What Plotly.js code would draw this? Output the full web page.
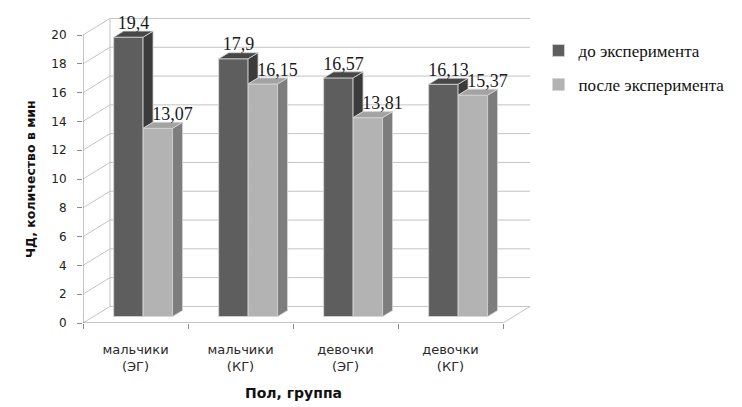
<!DOCTYPE html>
<html><head><meta charset="utf-8">
<script src="https://cdn.plot.ly/plotly-3.0.1.min.js"></script>
<style>html,body{margin:0;padding:0;background:#fff}#chart{width:742px;height:407px}</style>
</head><body><div id="chart"></div>
<script>
const categories = ["мальчики<br>(ЭГ)", "мальчики<br>(КГ)", "девочки<br>(ЭГ)", "девочки<br>(КГ)"];
const seriesNames = ["до эксперимента", "после эксперимента"];
const beforeVals = [19.4, 17.9, 16.57, 16.13];
const afterVals = [13.07, 16.15, 13.81, 15.37];
const yTicks = [0, 2, 4, 6, 8, 10, 12, 14, 16, 18, 20];

// 3D-look geometry (axis units)
const WALL_DX = 0.257, WALL_DY = 1.15;
const BAR_BASE = 0.45;
const BAR_W = 0.28, BAR_DX = 0.095, BAR_DY = 0.42;
const OFF = [-0.068, 0.213];
const FRONT = ["#5e5e5e", "#b3b3b3"], SIDE = ["#3b3b3b", "#7d7d7d"], TOP = ["#474747", "#a3a3a3"];
const EDGE = "#d6d6d6";

const idx = categories.map((_, i) => i);
const vals = [beforeVals, afterVals];
const traces = [];

vals.forEach((v, s) => {
  traces.push({
    type: "bar", name: seriesNames[s], legendgroup: "g" + s,
    x: idx.map(i => i + OFF[s]), y: v, base: v.map(() => BAR_BASE), width: BAR_W,
    marker: {color: FRONT[s], line: {color: EDGE, width: 0.8}},
    hoverinfo: "skip"
  });
});

function poly(xs, ys, color) {
  traces.push({type: "scatter", mode: "lines", x: xs.concat([xs[0]]), y: ys.concat([ys[0]]),
    fill: "toself", fillcolor: color, line: {color: EDGE, width: 0.8},
    showlegend: false, hoverinfo: "skip"});
}

vals.forEach((v, s) => {
  v.forEach((val, i) => {
    const xl = i + OFF[s] - BAR_W / 2, xr = i + OFF[s] + BAR_W / 2;
    const top = BAR_BASE + val;
    const low = s === 0 ? BAR_BASE + Math.min(afterVals[i], val) : BAR_BASE;
    poly([xr, xr, xr + BAR_DX, xr + BAR_DX], [low, top, top + BAR_DY, low + BAR_DY], SIDE[s]);
    poly([xl, xr, xr + BAR_DX, xl + BAR_DX], [top, top, top + BAR_DY, top + BAR_DY], TOP[s]);
  });
});

const LBL_DX = [0.05, 0.14];
vals.forEach((v, s) => {
  traces.push({type: "scatter", mode: "text", x: idx.map(i => i + OFF[s] + LBL_DX[s]),
    y: v.map(val => BAR_BASE + val + BAR_DY - 0.15),
    text: v.map(val => String(val).replace(".", ",")), textposition: "top center",
    textfont: {family: "Liberation Serif", size: 18, color: "#1a1a1a"},
    showlegend: false, hoverinfo: "skip", cliponaxis: false});
});

const shapes = [];
const gridC = "#c4c4c4", axC = "#8a8a8a";
yTicks.forEach(v => {
  shapes.push({type: "line", layer: "below", x0: -0.5, y0: v, x1: -0.5 + WALL_DX, y1: v + WALL_DY, line: {color: gridC, width: 1}});
  shapes.push({type: "line", layer: "below", x0: -0.5 + WALL_DX, y0: v + WALL_DY, x1: 3.5 + WALL_DX, y1: v + WALL_DY, line: {color: gridC, width: 1}});
});
shapes.push({type: "line", layer: "below", x0: -0.5 + WALL_DX, y0: WALL_DY, x1: -0.5 + WALL_DX, y1: 20 + WALL_DY, line: {color: gridC, width: 1}});
shapes.push({type: "line", layer: "below", x0: 3.5, y0: 0, x1: 3.5 + WALL_DX, y1: WALL_DY, line: {color: gridC, width: 1}});
shapes.push({type: "line", x0: -0.5, y0: 0, x1: 3.5, y1: 0, line: {color: axC, width: 1}});
shapes.push({type: "line", x0: -0.5, y0: 0, x1: -0.5, y1: 20, line: {color: axC, width: 1}});

const layout = {
  width: 742, height: 407,
  margin: {l: 83, r: 212, t: 16, b: 84},
  paper_bgcolor: "#fff", plot_bgcolor: "#fff",
  barmode: "overlay", showlegend: true,
  xaxis: {range: [-0.5, 3.5 + WALL_DX], tickmode: "array", tickvals: idx, ticktext: categories,
    ticks: "", showgrid: false, zeroline: false, showline: false, ticklabelstandoff: 17,
    tickfont: {family: "DejaVu Sans", size: 13, color: "#2a2a2a"},
    minor: {tick0: -0.5, dtick: 1, ticks: "outside", ticklen: 5, tickcolor: axC, showgrid: false}},
  yaxis: {range: [0, 21.32], tickmode: "array", tickvals: yTicks, ticks: "outside", ticklen: 5,
    tickcolor: axC, showgrid: false, zeroline: false, showline: false, ticklabelstandoff: 8,
    tickfont: {family: "DejaVu Sans", size: 12, color: "#222"}},
  legend: {x: 1.019, y: 0.945, xanchor: "left", yanchor: "top", traceorder: "grouped", tracegroupgap: 9,
    font: {family: "Liberation Serif", size: 17, color: "#111"}, itemwidth: 30},
  shapes: shapes,
  annotations: [
    {text: "<b>Пол, группа</b>", xref: "x", yref: "paper", x: 1.5, y: 0, yshift: -80, showarrow: false,
      font: {family: "DejaVu Sans", size: 14, color: "#111"}},
    {text: "<b>ЧД, количество в мин</b>", xref: "paper", yref: "y", x: 0, xshift: -53, xanchor: "center", y: 10, textangle: -90,
      showarrow: false, font: {family: "DejaVu Sans", size: 12.5, color: "#111"}}
  ]
};
Plotly.newPlot("chart", traces, layout, {displayModeBar: false, staticPlot: true});
</script></body></html>
